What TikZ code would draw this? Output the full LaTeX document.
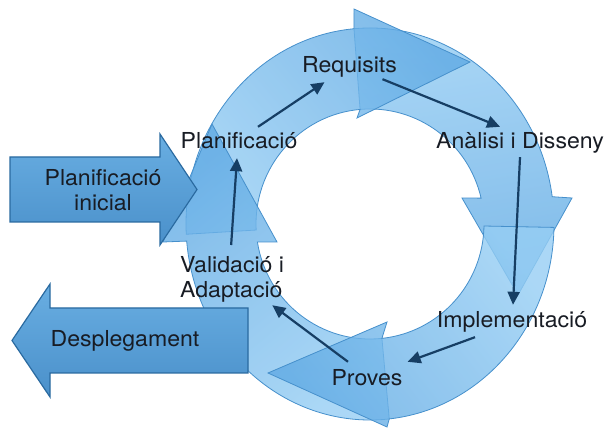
\documentclass[tikz,border=0pt]{standalone}
\usepackage{fontspec}
\setmainfont{TeX Gyre Heros}[FakeStretch=1.05]
\usepackage{tikz}
\usetikzlibrary{arrows.meta,calc}
\definecolor{ringlight}{RGB}{150,206,244}
\definecolor{ringdark}{RGB}{96,170,228}
\definecolor{ringedge}{RGB}{70,144,204}
\definecolor{blocktop}{RGB}{105,174,226}
\definecolor{blockbot}{RGB}{74,144,202}
\definecolor{blockedge}{RGB}{42,106,160}
\definecolor{linkcol}{RGB}{22,62,100}
\definecolor{txtcol}{RGB}{24,28,36}

\begin{document}
\begin{tikzpicture}[x=1pt,y=1pt,
  ringarrow/.style={draw=ringedge,line width=0.8pt,fill opacity=0.8,top color=ringlight,bottom color=ringdark},
  blockarrow/.style={draw=blockedge,line width=1.2pt,top color=blocktop,bottom color=blockbot},
  phasefont/.style={text=txtcol,font=\fontsize{22}{25}\selectfont,inner sep=0pt},
  phase/.style={phasefont,text height=16pt,text depth=5pt},
  conn/.style={draw=linkcol,line width=2.2pt,-{Triangle[length=13pt,width=12pt]}}]
\useasboundingbox (0,0) rectangle (609,433);
\fill[white] (0,0) rectangle (609,433);
\coordinate (c) at (370,209);

\path[ringarrow,shading angle=10] ($(c)+(95:184 and 196)$)
  arc[start angle=95,end angle=8,x radius=184,y radius=196]
  -- (572,235) -- (518,138) -- (462,235)
  -- ($(c)+(13:114 and 115)$)
  arc[start angle=13,end angle=95,x radius=114,y radius=115] -- cycle;
\path[ringarrow,shading angle=130] ($(c)+(183:184 and 196)$)
  arc[start angle=183,end angle=95,x radius=184,y radius=196]
  -- (354,424) -- (470,371) -- (357,315)
  -- ($(c)+(95:114 and 115)$)
  arc[start angle=95,end angle=183,x radius=114,y radius=115] -- cycle;
\path[ringarrow,shading angle=-141] ($(c)+(-84:184 and 196)$)
  arc[start angle=-84,end angle=-175,x radius=184,y radius=196]
  -- (163,191) -- (212,309) -- (277,191)
  -- ($(c)+(-171:114 and 115)$)
  arc[start angle=-171,end angle=-84,x radius=114,y radius=115] -- cycle;
\path[ringarrow,shading angle=-52] ($(c)+(-1:184 and 196)$)
  arc[start angle=-1,end angle=-84,x radius=184,y radius=196]
  -- (387,6) -- (268,60) -- (387,111)
  -- ($(c)+(-84:114 and 115)$)
  arc[start angle=-84,end angle=-1,x radius=114,y radius=115] -- cycle;

\path[blockarrow] (10,211) -- (10,276) -- (160,276) -- (160,299)
  -- (197,243.5) -- (160,188) -- (160,211) -- cycle;
\path[blockarrow] (248,60) -- (248,125) -- (50,125) -- (50,149)
  -- (12,92.5) -- (50,36) -- (50,60) -- cycle;

\node[phasefont,align=center] (ini) at (103,243) {Planificació\\inicial};
\node[phase,anchor=base] (desp) at (125,86) {Desplegament};

\node[phase,anchor=base] (req) at (349.5,360) {Requisits};
\node[phase,anchor=base] (plan) at (239,284) {Planificació};
\node[phase,anchor=base] (ana) at (520,284) {Anàlisi i Disseny};
\node[phase,anchor=base] (impl) at (512,105) {Implementació};
\node[phase,anchor=base] (prov) at (367,48) {Proves};
\node[phasefont,align=left,anchor=north west] (val) at (180,177) {Validació i\\Adaptació};

\draw[conn] ([shift={(19,6)}]plan.north) -- ([shift={(-25,-4)}]req.south);
\draw[conn] ([shift={(33,-1)}]req.south) -- ([shift={(-20,6)}]ana.north);
\draw[conn] ([shift={(0,-3)}]ana.south) -- ([shift={(1,7)}]impl.north);
\draw[conn] ([shift={(-37,-4)}]impl.south) -- ([shift={(5,7)}]prov.north east);
\draw[conn] ([shift={(-19,7)}]prov.north) -- ([shift={(-12,-3)}]val.south east);
\draw[conn] ([shift={(-1,11)}]val.north) -- ([shift={(-2,-4)}]plan.south);
\end{tikzpicture}
\end{document}
